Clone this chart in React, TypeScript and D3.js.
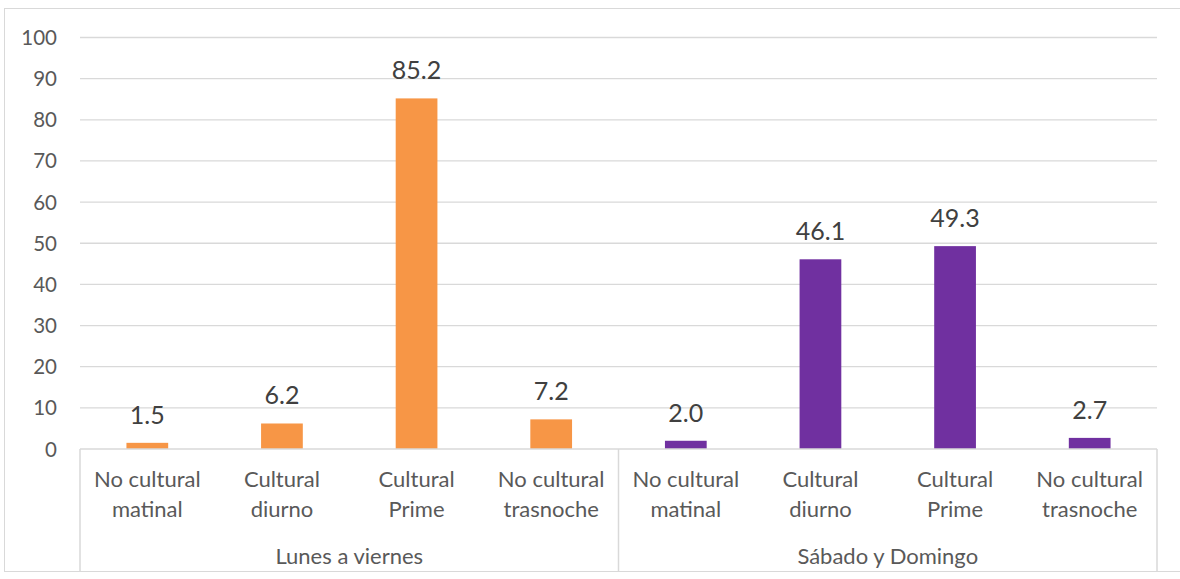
import React from "react";
import * as d3 from "d3";

const categories = ["No cultural|matinal", "Cultural|diurno", "Cultural|Prime", "No cultural|trasnoche"];
const groups = ["Lunes a viernes", "Sábado y Domingo"];
const weekdayValues = [1.5, 6.2, 85.2, 7.2];
const weekendValues = [2.0, 46.1, 49.3, 2.7];
const yTicks = [0, 10, 20, 30, 40, 50, 60, 70, 80, 90, 100];
const groupColors = ["#F79646", "#7030A0"];

export default function App() {
  const W = 1180, H = 579;
  const left = 80, right = 1157, top = 37.5, bottom = 449;
  const y = d3.scaleLinear().domain([0, 100]).range([bottom, top]);
  const items = groups.flatMap((g, gi) =>
    categories.map((c, ci) => ({
      key: `${gi}-${ci}`, group: gi, cat: c,
      value: gi === 0 ? weekdayValues[ci] : weekendValues[ci],
    }))
  );
  const x = d3.scaleBand<string>().domain(items.map(d => d.key)).range([left, right]).paddingInner(0.69).paddingOuter(0.345);
  const outer = d3.scaleBand<string>().domain(items.map(d => d.key)).range([left, right]);
  const gx = d3.scaleBand<string>().domain(groups).range([left, right]);
  const font = "Lato, 'Open Sans', sans-serif";
  const fmt = d3.format(".1f");
  return (
    <svg width={W} height={H} style={{ position: "absolute", left: 0, top: 0 }} fontFamily={font}>
      <rect x={0} y={0} width={W} height={H} fill="#fff" />
      <rect x={4.5} y={8.5} width={W} height={563} fill="none" stroke="#d9d9d9" />
      {yTicks.map(t => (
        <g key={t}>
          {t > 0 && <line x1={left} x2={right} y1={y(t)} y2={y(t)} stroke="#d9d9d9" strokeWidth={1.3} />}
          <text x={57} y={y(t) + 7.5} textAnchor="end" fontSize={20.5} fill="#595959">{t}</text>
        </g>
      ))}
      {items.map(d => (
        <g key={d.key}>
          <rect x={x(d.key)} y={y(d.value)} width={x.bandwidth()} height={bottom - y(d.value)} fill={groupColors[d.group]} />
          <text x={x(d.key)! + x.bandwidth() / 2} y={y(d.value) - 19} textAnchor="middle" fontSize={25} fill="#404040">{fmt(d.value)}</text>
          {d.cat.split("|").map((line, li) => (
            <text key={li} x={outer(d.key)! + outer.bandwidth() / 2} y={487 + li * 29.5} textAnchor="middle" fontSize={22} fill="#595959">{line}</text>
          ))}
        </g>
      ))}
      <line x1={left} x2={right} y1={bottom} y2={bottom} stroke="#d9d9d9" strokeWidth={1.5} />
      {[left, gx(groups[1])!, right].map((vx, i) => (
        <line key={i} x1={vx} x2={vx} y1={bottom} y2={571} stroke="#d9d9d9" strokeWidth={1.5} />
      ))}
      {groups.map(g => (
        <text key={g} x={gx(g)! + gx.bandwidth() / 2} y={564} textAnchor="middle" fontSize={22} fill="#595959">{g}</text>
      ))}
    </svg>
  );
}
